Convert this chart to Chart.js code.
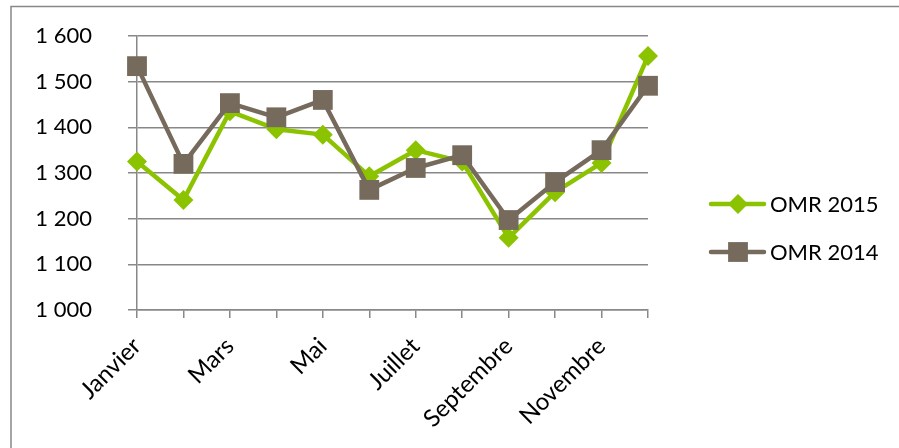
<!DOCTYPE html>
<html>
<head>
<meta charset="utf-8">
<script src="https://cdn.jsdelivr.net/npm/chart.js@4"></script>
<style>
  html, body { margin: 0; padding: 0; background: #fff; }
  #wrap { width: 899px; height: 448px; position: relative; }
</style>
</head>
<body>
<div id="wrap"><canvas id="c" width="899" height="448"></canvas></div>
<script>
const months = ['Janvier','Février','Mars','Avril','Mai','Juin','Juillet','Août','Septembre','Octobre','Novembre','Décembre'];
const omr2015 = [1325, 1241, 1435, 1396, 1384, 1293, 1350, 1325, 1158, 1258, 1322, 1556];
const omr2014 = [1534, 1320, 1453, 1422, 1460, 1263, 1311, 1339, 1197, 1280, 1350, 1491];
const seriesNames = ['OMR 2015', 'OMR 2014'];
const yMin = 1000, yMax = 1600, yStep = 100;

const GREEN = '#8CC300';
const GRAY = '#756A5B';
const AXIS = '#888888';
const FONT = 'Lato, "Open Sans", sans-serif';

const framePlugin = {
  id: 'frame',
  beforeDraw(chart) {
    const ctx = chart.ctx;
    ctx.save();
    ctx.fillStyle = '#fff';
    ctx.fillRect(0, 0, chart.width, chart.height);
    ctx.strokeStyle = AXIS;
    ctx.lineWidth = 1.5;
    ctx.beginPath();
    ctx.moveTo(11, chart.height);
    ctx.lineTo(11, 6.5);
    ctx.lineTo(chart.width, 6.5);
    ctx.stroke();
    ctx.restore();
  }
};

const legendPlugin = {
  id: 'customLegend',
  afterDraw(chart) {
    const ctx = chart.ctx;
    const rows = [204, 252];
    ctx.save();
    chart.data.datasets.forEach((ds, i) => {
      const y = rows[i];
      ctx.strokeStyle = ds.borderColor;
      ctx.lineWidth = ds.borderWidth;
      ctx.lineCap = 'round';
      ctx.beginPath();
      ctx.moveTo(711, y);
      ctx.lineTo(764, y);
      ctx.stroke();
      ctx.fillStyle = ds.pointBackgroundColor;
      const cx = 738;
      ctx.beginPath();
      if (ds.pointStyle === 'rectRot') {
        const r = ds.pointRadius;
        ctx.moveTo(cx - r, y); ctx.lineTo(cx, y - r); ctx.lineTo(cx + r, y); ctx.lineTo(cx, y + r);
        ctx.closePath();
      } else {
        const s = Math.SQRT1_2 * ds.pointRadius;
        ctx.rect(cx - s, y - s, 2 * s, 2 * s);
      }
      ctx.fill();
      ctx.fillStyle = '#000';
      ctx.font = '22px ' + FONT;
      ctx.textBaseline = 'middle';
      ctx.textAlign = 'left';
      ctx.fillText(ds.label, 770, y + 1);
    });
    ctx.restore();
  }
};

new Chart(document.getElementById('c'), {
  type: 'line',
  data: {
    labels: months,
    datasets: [
      {
        label: seriesNames[0],
        data: omr2015,
        borderColor: GREEN,
        backgroundColor: GREEN,
        pointBackgroundColor: GREEN,
        pointBorderColor: GREEN,
        pointBorderWidth: 0,
        borderWidth: 4.5,
        pointStyle: 'rectRot',
        pointRadius: 10,
        tension: 0,
        borderJoinStyle: 'round',
        order: 2
      },
      {
        label: seriesNames[1],
        data: omr2014,
        borderColor: GRAY,
        backgroundColor: GRAY,
        pointBackgroundColor: GRAY,
        pointBorderColor: GRAY,
        pointBorderWidth: 0,
        borderWidth: 4.5,
        pointStyle: 'rect',
        pointRadius: 14,
        tension: 0,
        borderJoinStyle: 'round',
        order: 1
      }
    ]
  },
  options: {
    responsive: false,
    animation: false,
    devicePixelRatio: 1,
    layout: { padding: { left: 0, top: 36, right: 251, bottom: 0 } },
    plugins: {
      legend: { display: false },
      tooltip: { enabled: false }
    },
    scales: {
      x: {
        type: 'category',
        offset: false,
        grid: {
          display: true,
          drawOnChartArea: false,
          drawTicks: true,
          tickLength: 8,
          color: AXIS,
          lineWidth: 1.5,
          offset: false
        },
        border: { display: true, color: AXIS, width: 1.5 },
        ticks: {
          autoSkip: false,
          minRotation: 45,
          maxRotation: 45,
          padding: 14,
          color: '#000',
          font: { family: FONT, size: 24 },
          callback: function(v, i) { return i % 2 === 0 ? this.getLabelForValue(v) : ''; }
        },
        afterFit(s) {
          s.height = 138;
          s.paddingLeft = 0; s.paddingRight = 0; s.paddingTop = 0; s.paddingBottom = 0;
        }
      },
      y: {
        min: yMin,
        max: yMax,
        grid: {
          color: AXIS,
          lineWidth: 1.5,
          drawTicks: true,
          tickLength: 9
        },
        border: { display: true, color: AXIS, width: 1.5 },
        ticks: {
          stepSize: yStep,
          padding: 36,
          color: '#000',
          font: { family: FONT, size: 22 },
          callback: v => String(v).replace(/\B(?=(\d{3})+(?!\d))/g, ' ')
        },
        afterFit(s) {
          s.width = 137;
          s.paddingLeft = 0; s.paddingRight = 0; s.paddingTop = 0; s.paddingBottom = 0;
        }
      }
    }
  },
  plugins: [framePlugin, legendPlugin]
});
</script>
</body>
</html>
